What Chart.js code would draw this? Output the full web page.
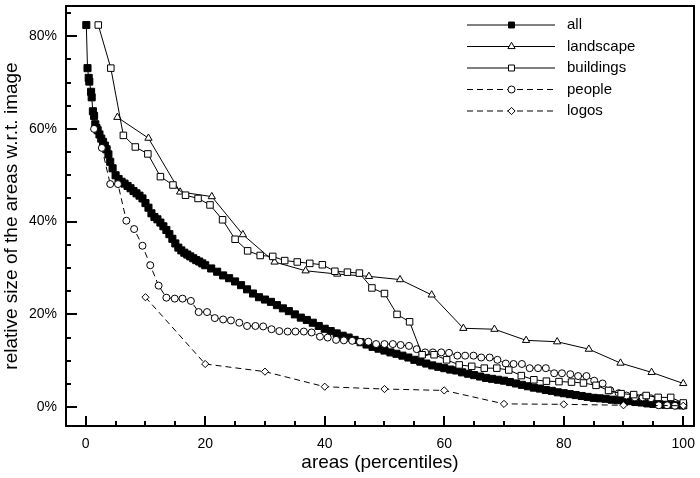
<!DOCTYPE html>
<html>
<head>
<meta charset="utf-8">
<script src="https://cdn.jsdelivr.net/npm/chart.js@4/dist/chart.umd.min.js"></script>
<style>
  html, body { margin: 0; padding: 0; background: #fff; }
</style>
</head>
<body>
<canvas id="c" width="700" height="478"></canvas>
<script>
// values (x = percentile, y = % of image)
const allX = [0.1, 0.3, 0.5, 0.6, 0.9, 1.0, 1.2, 1.4, 1.6, 1.8, 2.0, 2.3, 2.6, 2.9, 3.2, 3.5, 3.8, 4.1, 4.5,
  5, 5.5, 6, 6.5, 7, 7.5, 8, 8.5, 9, 9.5, 10, 10.5, 11, 11.5, 12, 12.5, 13, 13.5, 14, 14.5, 15, 15.5,
  16, 16.5, 17, 17.5, 18, 18.5, 19, 19.5, 20, 21, 22, 23, 24, 25, 26, 27, 28, 29, 30, 31, 32, 33, 34,
  35, 36, 37, 38, 39, 40, 41, 42, 43, 44, 45, 46, 47, 48, 49, 50, 51, 52, 53, 54, 55, 56, 57, 58, 59,
  60, 61, 62, 63, 64, 65, 66, 67, 68, 69, 70, 71, 72, 73, 74, 75, 76, 77, 78, 79, 80, 81, 82, 83, 84,
  85, 86, 87, 88, 89, 90, 91, 92, 93, 94, 95, 96, 97, 98, 99, 100];
const allY = [82.4, 73.1, 71.0, 70.2, 68.0, 66.8, 63.8, 62.8, 61.0, 60.2, 59.7, 58.8, 57.9, 57.2, 56.4, 55.6, 54.5, 52.9, 51.5,
  50.0, 49.2, 48.6, 48.2, 47.7, 47.2, 46.6, 46.1, 45.6, 45.0, 44.0, 43.0, 41.8, 41.0, 40.5, 39.8, 39.0, 38.2, 37.3, 36.3, 35.3, 34.4,
  33.8, 33.3, 32.9, 32.5, 32.1, 31.7, 31.4, 31.0, 30.6, 29.9, 29.2, 28.4, 27.8, 27.1, 26.3, 25.4, 24.5, 23.7, 23.2, 22.7, 22.0, 21.3, 20.7,
  20.0, 19.3, 18.8, 18.2, 17.5, 16.9, 16.4, 15.9, 15.4, 15.0, 14.5, 14.0, 13.5, 13.0, 12.6, 12.2, 11.8, 11.5, 11.1, 10.7, 10.2, 9.8, 9.4, 9.0, 8.7,
  8.4, 8.1, 7.9, 7.5, 7.2, 6.9, 6.6, 6.3, 6.1, 5.9, 5.7, 5.4, 5.1, 4.8, 4.5, 4.2, 4.0, 3.7, 3.5, 3.2, 3.0, 2.8, 2.6, 2.4, 2.2,
  2.0, 1.9, 1.8, 1.6, 1.5, 1.4, 1.3, 1.1, 1.0, 0.8, 0.7, 0.6, 0.5, 0.5, 0.4, 0.4];

const landscapeX = [5.3, 10.5, 15.8, 21.1, 26.3, 31.6, 36.8, 42.1, 47.4, 52.6, 57.9, 63.2, 68.4, 73.7, 78.9, 84.2, 89.5, 94.7, 100];
const landscapeY = [62.5, 58.0, 46.4, 45.4, 37.2, 31.3, 29.4, 28.7, 28.2, 27.5, 24.2, 17.0, 16.8, 14.4, 14.1, 12.5, 9.5, 7.5, 5.1];

const buildingsX = [2.1, 4.2, 6.3, 8.3, 10.4, 12.5, 14.6, 16.7, 18.8, 20.8, 22.9, 25, 27.1, 29.2, 31.3, 33.3,
  35.4, 37.5, 39.6, 41.7, 43.8, 45.8, 47.9, 50, 52.1, 54.2, 56.3, 58.3, 60.4, 62.5, 64.6, 66.7,
  68.8, 70.8, 72.9, 75, 77.1, 79.2, 81.3, 83.3, 85.4, 87.5, 89.6, 91.7, 93.8, 95.8, 97.9, 100];
const buildingsY = [82.4, 73.1, 58.6, 56.1, 54.6, 49.7, 47.9, 45.7, 45.0, 43.6, 40.4, 36.2, 33.7, 32.7, 32.5, 31.6,
  31.3, 31.0, 30.7, 29.3, 29.1, 28.9, 25.7, 24.5, 20.0, 18.4, 11.3, 11.3, 10.2, 9.1, 8.8, 8.4,
  8.4, 8.0, 6.8, 5.9, 5.6, 5.5, 5.4, 5.2, 4.7, 3.6, 2.9, 2.7, 2.5, 2.1, 2.1, 0.9];

const peopleX = [1.4, 2.7, 4.1, 5.4, 6.8, 8.1, 9.5, 10.8, 12.2, 13.5, 14.9, 16.2, 17.6, 18.9, 20.3, 21.6, 23.0, 24.3,
  25.7, 27.0, 28.4, 29.7, 31.1, 32.4, 33.8, 35.1, 36.5, 37.8, 39.2, 40.5, 41.9, 43.2, 44.6, 45.9, 47.3, 48.6, 50.0,
  51.4, 52.7, 54.1, 55.4, 56.8, 58.1, 59.5, 60.8, 62.2, 63.5, 64.9, 66.2, 67.6, 68.9, 70.3, 71.6, 73.0, 74.3,
  75.7, 77.0, 78.4, 79.7, 81.1, 82.4, 83.8, 85.1, 86.5, 87.8, 89.2, 90.5, 91.9, 93.2, 94.6, 95.9, 97.3, 98.6, 100];
const peopleY = [60.0, 55.9, 48.1, 48.1, 40.2, 38.4, 34.8, 30.6, 26.2, 23.6, 23.4, 23.4, 22.9, 20.5, 20.5, 19.2, 18.9, 18.7,
  18.2, 17.5, 17.5, 17.4, 16.8, 16.4, 16.3, 16.3, 16.3, 16.1, 15.2, 15.0, 14.5, 14.4, 14.3, 14.1, 14.1, 13.6, 13.6,
  13.6, 13.4, 13.2, 12.5, 11.8, 11.8, 11.8, 11.7, 11.1, 11.1, 11.1, 10.7, 10.7, 10.2, 9.4, 9.3, 9.3, 8.4,
  8.4, 8.4, 7.3, 7.3, 7.1, 6.7, 6.7, 5.7, 5.1, 3.6, 3.0, 2.5, 2.1, 2.1, 1.9, 0.4, 0.4, 0.3, 0.3];

const logosX = [10, 20, 30, 40, 50, 60, 70, 80, 90, 100];
const logosY = [23.7, 9.3, 7.65, 4.4, 3.9, 3.6, 0.7, 0.6, 0.4, 0.3];

const seriesNames = ['all', 'landscape', 'buildings', 'people', 'logos'];

const FONT = "'Liberation Sans', Arial, Helvetica, sans-serif";

function pts(xs, ys) {
  return xs.map((x, i) => ({ x: x, y: ys[i] }));
}

function series(label, data, style, radius, fill, dash, order) {
  return {
    label: label,
    data: data,
    borderColor: '#000',
    borderWidth: 1,
    borderDash: dash,
    pointStyle: style,
    pointRadius: radius,
    pointBorderColor: '#000',
    pointBorderWidth: 1,
    pointBackgroundColor: fill,
    fill: false,
    tension: 0,
    order: order
  };
}

const datasets = [
  series(seriesNames[0], pts(allX, allY), 'rect', 5, '#000', [], 5),
  series(seriesNames[1], pts(landscapeX, landscapeY), 'triangle', 4.2, '#fff', [], 3),
  series(seriesNames[2], pts(buildingsX, buildingsY), 'rect', 4.6, '#fff', [], 2),
  series(seriesNames[3], pts(peopleX, peopleY), 'circle', 3.5, '#fff', [6, 4], 4),
  series(seriesNames[4], pts(logosX, logosY), 'rectRot', 3.6, '#fff', [6, 4], 1)
];

// frame round the plot and inward tick marks (long every 20, short every 5)
const frameTicks = {
  id: 'frameTicks',
  afterDraw(chart) {
    const ctx = chart.ctx;
    const a = chart.chartArea;
    const sx = chart.scales.x, sy = chart.scales.y;
    ctx.save();
    ctx.strokeStyle = '#000';
    ctx.lineWidth = 2;
    ctx.setLineDash([]);
    ctx.strokeRect(a.left, a.top, a.right - a.left, a.bottom - a.top);
    ctx.beginPath();
    sx.ticks.forEach(function (t) {
      const px = Math.round(sx.getPixelForValue(t.value));
      const len = t.value % 20 === 0 ? 10 : 5;
      ctx.moveTo(px, a.bottom);
      ctx.lineTo(px, a.bottom - len);
    });
    sy.ticks.forEach(function (t) {
      const py = Math.round(sy.getPixelForValue(t.value));
      const len = t.value % 20 === 0 ? 11 : 5;
      ctx.moveTo(a.left, py);
      ctx.lineTo(a.left + len, py);
    });
    ctx.stroke();
    ctx.restore();
  }
};

// legend drawn as line + marker + label, like the reference
const lineLegend = {
  id: 'lineLegend',
  afterDraw(chart) {
    const ctx = chart.ctx;
    ctx.save();
    chart.data.datasets.forEach(function (ds, i) {
      const y = 25 + i * 21.5;
      ctx.strokeStyle = '#000';
      ctx.lineWidth = 1;
      ctx.setLineDash(ds.borderDash);
      ctx.beginPath();
      ctx.moveTo(467, y);
      ctx.lineTo(555, y);
      ctx.stroke();
      ctx.setLineDash([]);
      ctx.fillStyle = ds.pointBackgroundColor;
      Chart.helpers.drawPoint(ctx, {
        pointStyle: ds.pointStyle,
        radius: Math.min(ds.pointRadius, 4.2),
        rotation: 0,
        borderWidth: 1
      }, 511.5, y);
      ctx.fillStyle = '#000';
      ctx.font = '15px ' + FONT;
      ctx.textBaseline = 'middle';
      ctx.textAlign = 'left';
      ctx.fillText(ds.label, 567, y);
    });
    ctx.restore();
  }
};

// keep the plot box where the reference has it: no extra edge padding for labels
function noEdgePadding(scale) {
  scale.paddingTop = 0;
  scale.paddingBottom = 0;
  scale.paddingLeft = 0;
  scale.paddingRight = 0;
}

new Chart(document.getElementById('c'), {
  type: 'line',
  data: { datasets: datasets },
  options: {
    responsive: false,
    animation: false,
    layout: { padding: { top: 3, right: 3, left: 0, bottom: 0 } },
    plugins: {
      legend: { display: false },
      tooltip: { enabled: false }
    },
    scales: {
      x: {
        type: 'linear',
        min: -3.3,
        max: 101.8,
        grid: { display: false, drawTicks: false },
        border: { display: false },
        ticks: {
          stepSize: 5,
          includeBounds: false,
          autoSkip: false,
          maxRotation: 0,
          padding: 10,
          color: '#000',
          font: { family: FONT, size: 14 },
          callback: function (v) { return v % 20 === 0 ? String(v) : ''; }
        },
        title: {
          display: true,
          text: 'areas (percentiles)',
          color: '#000',
          font: { family: FONT, size: 19 },
          padding: { top: 0, bottom: 4 }
        },
        afterFit: function (scale) { scale.height = 52; noEdgePadding(scale); }
      },
      y: {
        type: 'linear',
        min: -4.07,
        max: 86.5,
        grid: { display: false, drawTicks: false },
        border: { display: false },
        ticks: {
          stepSize: 5,
          includeBounds: false,
          autoSkip: false,
          padding: 9,
          color: '#000',
          font: { family: FONT, size: 14 },
          callback: function (v) { return v % 20 === 0 ? v + '%' : ''; }
        },
        title: {
          display: true,
          text: 'relative size of the areas w.r.t. image',
          color: '#000',
          font: { family: FONT, size: 19 },
          padding: { top: 0, bottom: 0 }
        },
        afterFit: function (scale) { scale.width = 66; noEdgePadding(scale); }
      }
    }
  },
  plugins: [frameTicks, lineLegend]
});
</script>
</body>
</html>
